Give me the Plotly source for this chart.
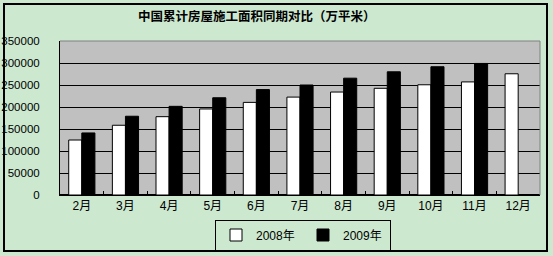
import plotly.graph_objects as go

months = ["2月", "3月", "4月", "5月", "6月", "7月", "8月", "9月", "10月", "11月", "12月"]
y2008 = [125000, 158500, 178000, 195500, 210500, 222500, 234000, 242500, 250500, 257000, 275500]
y2009 = [141000, 179000, 201500, 221000, 239500, 250000, 265500, 280000, 291500, 299000, None]
yticks = [0, 50000, 100000, 150000, 200000, 250000, 300000, 350000]

W, H = 553, 256
ml, mr, mt, mb = 60, 13, 41, 61
pw, ph = W - ml - mr, H - mt - mb

def px(x):
    return (x - ml) / pw

def py(y):
    return (H - mb - y) / ph

font = "Liberation Sans, Arial, Noto Sans CJK SC, sans-serif"

fig = go.Figure()
fig.add_trace(go.Bar(name="2008年", x=months, y=y2008,
                     marker=dict(color="white", line=dict(color="black", width=1))))
fig.add_trace(go.Bar(name="2009年", x=months, y=y2009,
                     marker=dict(color="black", line=dict(color="black", width=1))))

fig.update_layout(
    width=W, height=H,
    margin=dict(l=ml, r=mr, t=mt, b=mb, autoexpand=False),
    paper_bgcolor="#cce8cf",
    plot_bgcolor="#c0c0c0",
    barmode="group", bargap=0.4, bargroupgap=0,
    font=dict(family=font, size=12, color="black"),
    showlegend=True,
    legend=dict(orientation="h", x=px(303), y=py(235), xanchor="center", yanchor="middle",
                bordercolor="black", borderwidth=1, bgcolor="rgba(0,0,0,0)",
                font=dict(size=12), itemwidth=30, traceorder="normal",
                entrywidth=42, tracegroupgap=0),
    xaxis=dict(showline=True, linecolor="black", linewidth=1, automargin=False,
               ticks="inside", ticklen=4, tickcolor="black", tickson="boundaries",
               showgrid=False, tickfont=dict(size=12), fixedrange=True),
    yaxis=dict(range=[0, 350000], tickvals=yticks, ticktext=[str(v) for v in yticks],
               showline=True, linecolor="black", linewidth=1, automargin=False,
               showgrid=True, gridcolor="black", gridwidth=1,
               zeroline=True, zerolinecolor="black",
               ticks="", ticklabelstandoff=17, tickfont=dict(size=11.5), fixedrange=True),
    annotations=[dict(text="<b>中国累计房屋施工面积同期对比（万平米）</b>",
                      xref="paper", yref="paper", x=px(257), y=py(16),
                      xanchor="center", yanchor="middle", showarrow=False,
                      font=dict(family="Noto Sans CJK SC", size=12.5, color="black"))],
    shapes=[
        dict(type="rect", xref="paper", yref="paper", x0=px(4), x1=px(547), y0=py(251), y1=py(4),
             line=dict(color="black", width=2), layer="below"),
        dict(type="line", xref="paper", yref="paper", x0=0, x1=1, y0=1, y1=1,
             line=dict(color="#808080", width=1)),
        dict(type="line", xref="paper", yref="paper", x0=1, x1=1, y0=0, y1=1,
             line=dict(color="#808080", width=1)),
    ],
)

fig.write_html("out.html")
